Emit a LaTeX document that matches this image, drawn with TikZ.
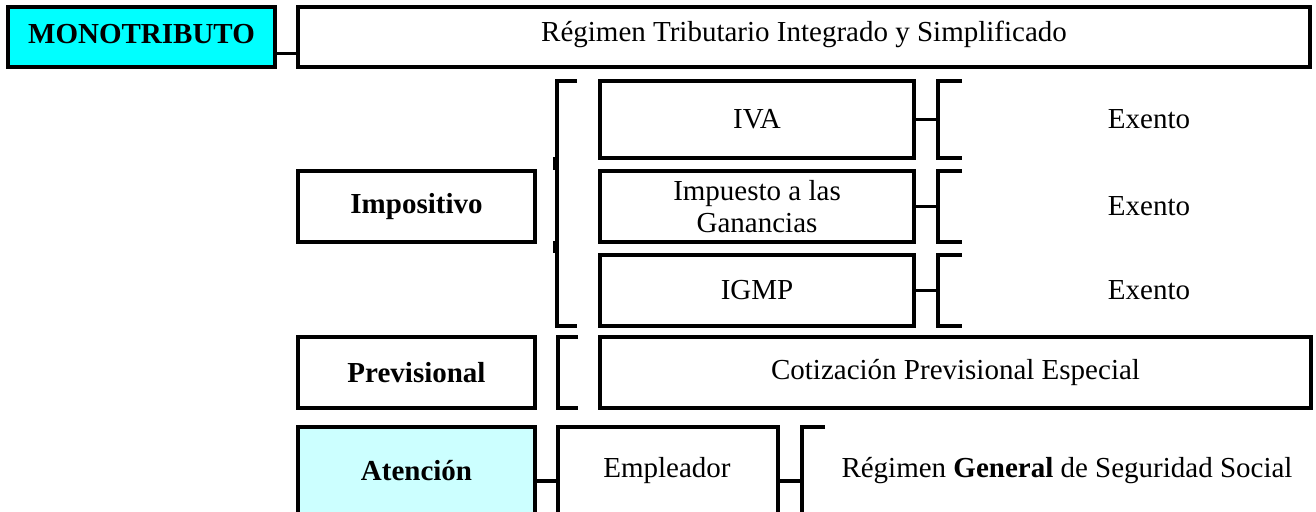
\documentclass[tikz,border=0pt]{standalone}
\usepackage{fontspec}
\setmainfont{Liberation Serif}
\usetikzlibrary{calc}
\definecolor{monocyan}{HTML}{00FFFF}
\definecolor{lightcyan}{HTML}{CCFFFF}
\tikzset{
  ln/.style={line width=3.6pt},
  box/.style={draw, ln, inner sep=0pt, align=center, font=\fontsize{29}{32}\selectfont},
  txt/.style={inner sep=0pt, align=center, font=\fontsize{29}{32}\selectfont},
  conn/.style={line width=3.4pt},
  brk/.style={line width=3.4pt},
}
\begin{document}
\begin{tikzpicture}[x=1pt,y=-1pt]
\useasboundingbox (0,0) rectangle (1316,511);
\clip (0,0) rectangle (1316,511);
\fill[white] (0,0) rectangle (1316,511);
% top row
\node[box, fill=monocyan, minimum width=267pt, minimum height=60pt] (mono) at (141.5,37) {};
\node[txt] (monot) at (141.5,34) {\bfseries MONOTRIBUTO};
\node[box, minimum width=1012pt, minimum height=60pt] (reg) at (804,37) {};
\node[txt] (regt) at (804,34) {Régimen Tributario Integrado y Simplificado};
\draw[conn] ($(mono.south east)+(0,-15)$) -- ($(reg.south west)+(0,-15)$);
% impositivo
\node[box, minimum width=237pt, minimum height=71pt] (impos) at (416.5,206.5) {\bfseries Impositivo};
\node[box, minimum width=314pt, minimum height=77pt] (iva) at (757,119.5) {IVA};
\node[box, minimum width=314pt, minimum height=71pt] (imp) at (757,206.5) {Impuesto a las\\Ganancias};
\node[box, minimum width=314pt, minimum height=71pt] (igmp) at (757,290.5) {IGMP};
% left bracket of impositivo
\draw[brk] (577,81) -- (557,81) -- (557,326) -- (577,326);
\draw[brk] (555,157) -- (555,170);
\draw[brk] (555,241) -- (555,253);
% right brackets
\draw[brk] (962,81) -- (938,81) coordinate (b1) -- (938,158) -- (962,158);
\draw[brk] (962,171) -- (938,171) coordinate (b2) -- (938,242) -- (962,242);
\draw[brk] (962,255) -- (938,255) coordinate (b3) -- (938,326) -- (962,326);
\draw[conn] (iva.east) -- (iva.east -| b1);
\draw[conn] (imp.east) -- (imp.east -| b2);
\draw[conn] (igmp.east) -- (igmp.east -| b3);
\node[txt] (ex1) at (1149,119.5) {Exento};
\node[txt] (ex2) at (1149,206.5) {Exento};
\node[txt] (ex3) at (1149,290.5) {Exento};
% previsional
\node[box, minimum width=237pt, minimum height=71pt] (prev) at (416.5,372.5) {\bfseries Previsional};
\draw[brk] (578,337) -- (558,337) -- (558,408) -- (578,408);
\node[box, minimum width=711pt, minimum height=71pt] (cot) at (955.5,372.5) {Cotización Previsional Especial};
% atencion
\node[draw, ln, fill=lightcyan, minimum width=237pt, minimum height=113pt, inner sep=0pt] (aten) at (416.5,483.5) {};
\node[txt] (atent) at (416.5,471) {\bfseries Atención};
\node[draw, ln, minimum width=220pt, minimum height=113pt, inner sep=0pt] (empl) at (668,483.5) {};
\node[txt] (emplt) at (667,471) {Empleador};
\draw[brk] (825,427) -- (802,427) coordinate (b4) -- (802,540);
\node[txt] (rgss) at (1067,471) {Régimen \textbf{General} de Seguridad Social};
\coordinate (cy) at (0,481);
\draw[conn] (aten.east |- cy) -- (empl.west |- cy);
\draw[conn] (empl.east |- cy) -- (b4 |- cy);
\end{tikzpicture}
\end{document}
